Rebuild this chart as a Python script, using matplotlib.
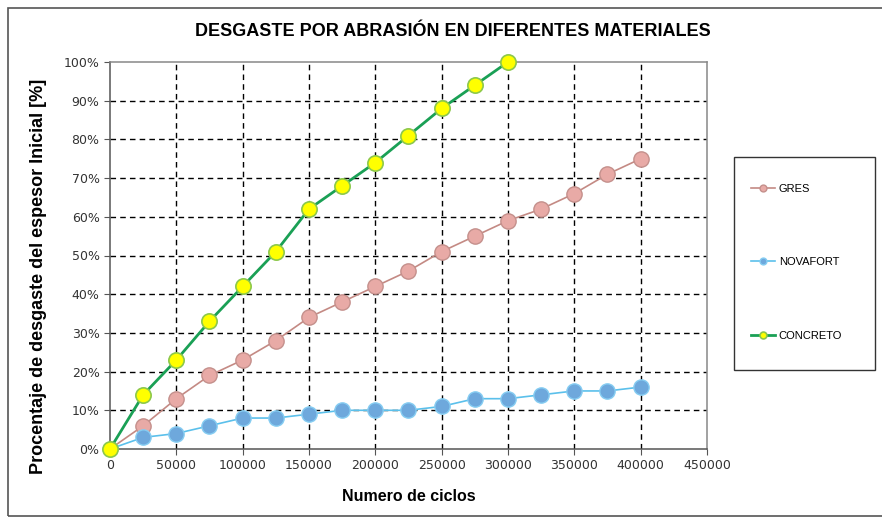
import matplotlib.pyplot as plt
from matplotlib.patches import Rectangle
from matplotlib.ticker import FuncFormatter

# Data
ciclos = [0, 25000, 50000, 75000, 100000, 125000, 150000, 175000, 200000,
          225000, 250000, 275000, 300000, 325000, 350000, 375000, 400000]
gres = [0, 6, 13, 19, 23, 28, 34, 38, 42, 46, 51, 55, 59, 62, 66, 71, 75]
novafort = [0, 3, 4, 6, 8, 8, 9, 10, 10, 10, 11, 13, 13, 14, 15, 15, 16]
ciclos_concreto = ciclos[:13]
concreto = [0, 14, 23, 33, 42, 51, 62, 68, 74, 81, 88, 94, 100]

plt.rcParams['font.family'] = ['Liberation Sans', 'DejaVu Sans']

fig = plt.figure(figsize=(8.82, 5.2), dpi=100)
ax = fig.add_axes([110 / 882, 1 - 449 / 520, (707 - 110) / 882, (449 - 62) / 520])

# outer chart border
fig.patches.append(Rectangle((8 / 882, 4 / 520), 1.0, 1 - 12 / 520, transform=fig.transFigure,
                             fill=False, edgecolor='#555555', linewidth=1.2))
# legend box
fig.patches.append(Rectangle((734 / 882, 1 - 370 / 520), (875 - 734) / 882, (370 - 157) / 520,
                             transform=fig.transFigure, fill=False, edgecolor='#333333', linewidth=1))

ax.plot(ciclos, gres, color='#c48a84', lw=1.2, marker='o', ms=11,
        mfc='#e8aaa6', mec='#c4908c', mew=1, label='GRES', zorder=3)
ax.plot(ciclos, novafort, color='#5bc0eb', lw=1.2, marker='o', ms=11,
        mfc='#6ea8dc', mec='#86cdf2', mew=1, label='NOVAFORT', zorder=3)
ax.plot(ciclos_concreto, concreto, color='#1aa055', lw=2, marker='o', ms=11,
        mfc='#ffff00', mec='#8cc84b', mew=1.2, label='CONCRETO', zorder=4, clip_on=False)

ax.set_xlim(0, 450000)
ax.set_ylim(0, 100)
ax.set_xticks(range(0, 450001, 50000))
ax.set_yticks(range(0, 101, 10))
ax.yaxis.set_major_formatter(FuncFormatter(lambda v, p: f"{v:.0f}%"))
ax.grid(True, color='black', linestyle=(0, (4, 3)), linewidth=1)
ax.set_axisbelow(True)
# no dashed line on top of the frame edges
ax.get_xgridlines()[-1].set_visible(False)
ax.get_xgridlines()[0].set_visible(False)
ax.get_ygridlines()[-1].set_visible(False)
ax.get_ygridlines()[0].set_visible(False)
for s in ax.spines.values():
    s.set_color('#888888')
    s.set_linewidth(1.1)
ax.spines['left'].set_color('#555555')
ax.spines['bottom'].set_color('#555555')
ax.tick_params(direction='out', length=4, colors='#555555', labelsize=9, labelcolor='#333333')
for lab in ax.get_xticklabels() + ax.get_yticklabels():
    lab.set_family('DejaVu Sans')

ax.set_xlabel('Numero de ciclos', fontsize=11.5, fontweight='bold', labelpad=12)
ax.set_ylabel('Procentaje de desgaste del espesor Inicial [%]', fontsize=13,
              fontweight='bold')
ax.yaxis.set_label_coords(-0.105, 0.447)
fig.text(453 / 882, 1 - 31 / 520, 'DESGASTE POR ABRASIÓN EN DIFERENTES MATERIALES',
         ha='center', va='center', fontsize=13, fontweight='bold')

leg = fig.legend(loc='upper left', bbox_to_anchor=(751 / 882, 1 - 184 / 520),
                 frameon=False, fontsize=8, labelspacing=5.7, handlelength=2.2,
                 handletextpad=0.3, borderpad=0, markerscale=0.45, borderaxespad=0)

fig.savefig('out.png', dpi=100)
